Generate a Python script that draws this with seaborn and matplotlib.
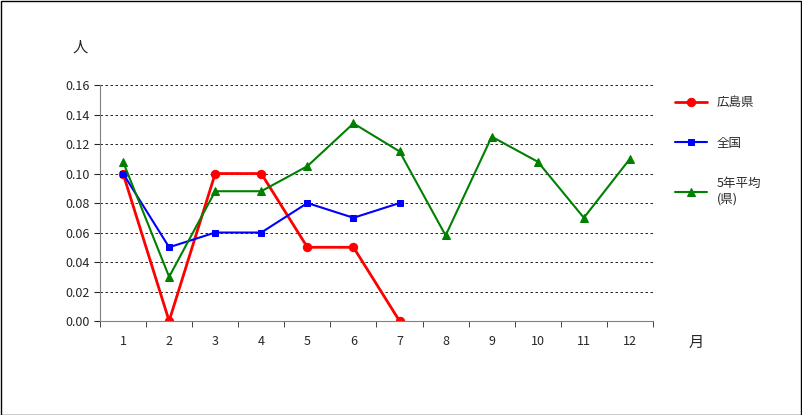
import matplotlib
matplotlib.use("Agg")
import matplotlib.pyplot as plt
import numpy as np
import pandas as pd
import seaborn as sns

months = list(range(1, 13))
hiroshima = [0.10, 0.00, 0.10, 0.10, 0.05, 0.05, 0.00]
zenkoku = [0.10, 0.05, 0.06, 0.06, 0.08, 0.07, 0.08]
heikin = [0.108, 0.030, 0.088, 0.088, 0.105, 0.134, 0.115, 0.058, 0.125, 0.108, 0.070, 0.110]

sns.set_style("white")
plt.rcParams['font.family'] = ['Noto Sans CJK JP', 'DejaVu Sans']

fig = plt.figure(figsize=(8.02, 4.15), dpi=100)
fig.patches.append(plt.Rectangle((0.001, 0.001), 0.998, 0.997, transform=fig.transFigure,
                                 fill=False, edgecolor='black', linewidth=1))
ax = fig.add_axes([0.1247, 0.2265, 0.6895, 0.5685])

df_r = pd.DataFrame({'m': months[:7], 'v': hiroshima})
df_b = pd.DataFrame({'m': months[:7], 'v': zenkoku})
df_g = pd.DataFrame({'m': months, 'v': heikin})
sns.lineplot(data=df_r, x='m', y='v', ax=ax, color='#ff0000', marker='o', markersize=6,
             markeredgecolor='#ff0000', linewidth=2, label='広島県')
sns.lineplot(data=df_b, x='m', y='v', ax=ax, color='#0000ff', marker='s', markersize=5,
             markeredgecolor='#0000ff', linewidth=1.5, label='全国')
sns.lineplot(data=df_g, x='m', y='v', ax=ax, color='#008000', marker='^', markersize=6,
             markeredgecolor='#008000', linewidth=1.5, label='5年平均\n(県)')

ax.set_xlim(0.5, 12.5)
ax.set_ylim(0, 0.16)
ax.set_yticks(np.arange(0, 0.161, 0.02))
ax.set_yticklabels([f"{v:.2f}" for v in np.arange(0, 0.161, 0.02)], fontsize=9)
ax.set_xticks(months)
ax.set_xticklabels([str(m) for m in months], fontsize=9)
ax.set_xticks(np.arange(0.5, 12.6, 1), minor=True)
ax.tick_params(axis='x', which='major', length=0, pad=10)
ax.tick_params(axis='x', which='minor', length=4, direction='out', bottom=True)
ax.tick_params(axis='y', length=4, direction='out', left=True)
ax.grid(axis='y', color='black', linestyle=(0, (3, 3)), linewidth=0.6)
for s in ['top', 'right']:
    ax.spines[s].set_visible(False)
for s in ['left', 'bottom']:
    ax.spines[s].set_color('#808080')
ax.set_xlabel('')
ax.set_ylabel('')
fig.text(0.09, 0.875, '人', fontsize=11)
fig.text(0.858, 0.165, '月', fontsize=11)
ax.legend(loc='upper left', bbox_to_anchor=(1.02, 1.0), frameon=False, fontsize=9,
          labelspacing=2.2, handlelength=2.5)

fig.savefig('out.png', dpi=100)
